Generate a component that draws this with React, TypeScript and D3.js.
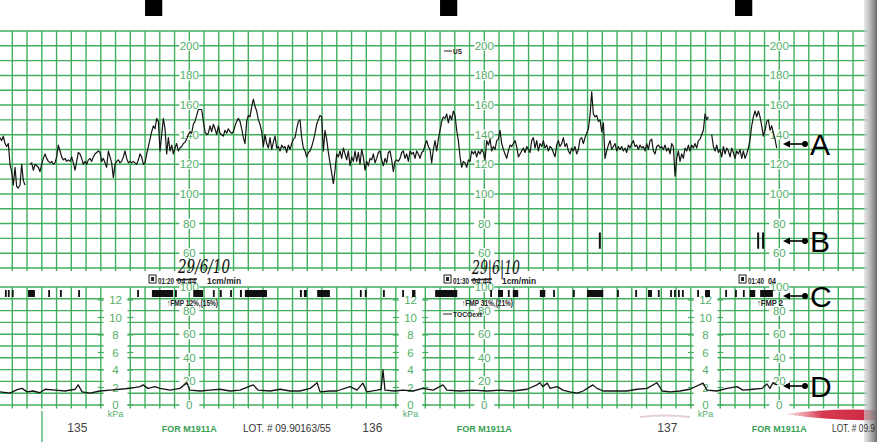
import React from 'react';
import * as d3 from 'd3';

// ---- data (time in seconds after 01:15:00) ----
const FHR_START = 5;
const FHR_STEP = 3.39;
// fetal heart rate, bpm; null = signal loss
const fhrBpm: (number | null)[] = [
  138, 136, 139, 134, 132, 134, 120, 115, 106, 118, 105, 104, 106, 120, 109, 106, null, null, 120, 121,
  116, 120, 119, 118, 115, 120, 124, 127, 124, 122, 121, 122, 120, 121, 125, 133, 129, 125, 123, 124,
  122, 123, 122, 125, 121, 116, 122, 128, 127, 124, 120, 122, 120, 123, 124, 122, 125, 127, 128, 129,
  128, 122, 124, 121, 118, 129, 125, 121, 111, 120, 122, 123, 121, 122, 125, 129, 124, 121, 122, 121,
  122, 121, 120, 123, 127, 125, 120, 121, 127, 132, 137, 142, 146, 144, 151, 149, 129, 140, 151, 144,
  127, 138, 129, 133, 127, 131, 134, 129, 131, 132, 134, 135, 137, 140, 142, 141, 147, 149, 153, 157,
  157, 157, 149, 142, 140, 141, 146, 142, 147, 144, 140, 146, 141, 140, 139, 143, 141, 144, 142, 141,
  142, 146, 149, 151, 149, 144, 138, 134, 149, 153, 152, 159, 164, 159, 156, 150, 147, 142, 132, 140,
  134, 131, 138, 130, 135, 139, 131, 132, 129, 133, 131, 132, 128, 133, 130, 134, 137, 138, 144, 149,
  150, 138, 131, 129, 125, 128, 129, 132, 136, 141, 147, 150, 153, 152, 129, 143, 137, 128, 121, 114,
  107, 116, 127, 125, 129, 124, 131, 127, 123, 129, 119, 125, 122, 129, 122, 128, 120, 130, 125, 116,
  122, 119, 124, 123, 127, 121, 124, 128, 129, 123, 119, 124, 121, 128, 129, 123, 115, 122, 123, 122,
  124, 128, 129, 124, 127, 122, 129, 127, 128, 124, 129, 127, 124, 128, 129, 133, 136, 132, 130, 121,
  130, 136, 129, 137, 143, 149, 152, 151, 154, 148, 153, 150, 156, 153, 143, 136, 125, 118, 122, 121,
  118, 123, 122, 129, 127, 129, 125, 129, 127, 130, 128, 123, 136, 133, 137, 129, 132, 130, 136, 137,
  143, 134, 130, 127, 124, 129, 133, 132, 134, 136, 132, 125, 127, 129, 131, 128, 132, 130, 128, 136,
  138, 131, 136, 129, 134, 132, 136, 131, 133, 129, 132, 131, 128, 125, 133, 136, 132, 134, 138, 132,
  134, 129, 127, 131, 129, 132, 127, 130, 137, 138, 134, 138, 141, 144, 153, 169, 154, 152, 153, 149,
  150, 142, 148, 124, 129, 133, 136, 130, 132, 134, 129, 132, 130, 132, 129, 131, 128, 133, 131, 134,
  136, 132, 133, 130, 133, 131, 132, 129, 134, 130, 136, 137, 129, 127, 132, 133, 131, 132, 130, 133,
  129, 131, 127, 134, 132, 112, 124, 129, 122, 127, 124, 131, 129, 133, 129, 133, 131, 134, 131, 136,
  137, 140, 143, 154, 150, 152, null, 140, 132, 129, 133, 128, 130, 125, 132, 127, 131, 129, 125, 131,
  128, 124, 129, 127, 130, 124, 129, 124, 127, 131, 137, 146, 152, 156, 152, 156, 152, 146, 139, 143,
  149, 150, 143, 146, 141, 137, 131,
];

// uterine activity (external toco), kPa
const tocoSec = [
  5, 25, 40, 50, 60, 72, 86, 97, 117, 137, 158, 164, 172, 188, 208, 229, 249, 269, 290, 296,
  306, 320, 330, 351, 371, 385, 391, 412, 432, 452, 473, 493, 520, 530, 554, 575, 595, 615, 636, 650,
  656, 676, 690, 717, 731, 743, 751, 772, 780, 784, 788, 808, 825, 845, 865, 886, 906, 914, 941, 967,
  996, 1022, 1048, 1077, 1097, 1103, 1109, 1118, 1124, 1138, 1150, 1164, 1179, 1191, 1205, 1211, 1219, 1232, 1252, 1280,
  1301, 1321, 1341, 1352, 1368, 1388, 1408, 1435, 1443, 1463, 1484, 1504, 1516, 1537, 1555, 1565, 1571, 1577, 1585,
];
const tocoKpa = [
  1.5, 1.35, 1.75, 1.9, 1.5, 1.6, 1.4, 1.8, 1.7, 1.6, 1.8, 2.3, 1.5, 1.35, 1.6, 1.7, 1.8, 1.9, 2.1, 2.3,
  1.9, 2.1, 1.9, 1.7, 1.9, 2.55, 1.7, 1.6, 1.7, 1.8, 1.6, 1.7, 2.3, 1.7, 1.6, 1.8, 1.6, 1.6, 1.9, 2.55,
  1.5, 1.6, 1.6, 2.1, 1.7, 2.5, 1.5, 1.7, 1.8, 4.0, 1.7, 1.6, 1.7, 1.6, 1.9, 1.7, 2.3, 1.7, 1.6, 1.7,
  1.6, 1.7, 1.6, 1.8, 2.3, 2.55, 2.1, 2.5, 1.9, 2.1, 1.7, 1.5, 1.35, 1.6, 2.1, 2.3, 1.9, 1.6, 1.6, 1.6,
  1.8, 1.9, 2.55, 1.6, 1.5, 1.6, 1.8, 2.5, 1.7, 1.6, 1.9, 2.1, 1.7, 1.8, 1.9, 2.4, 1.9, 2.55, 2.3,
];

// fetal movement marks (start, end in seconds)
const moveStart = [
  15, 21, 29, 62, 103, 127, 164, 284, 314, 361, 398, 438, 452, 473, 493, 503, 615, 623, 650, 737,
  747, 784, 823, 843, 890, 1002, 1018, 1038, 1048, 1103, 1130, 1170, 1199, 1260, 1297, 1323, 1343, 1368, 1376, 1384,
  1392, 1423, 1439, 1480, 1500, 1516, 1530, 1551,
];
const moveEnd = [
  17, 23, 31, 76, 106, 130, 167, 287, 357, 364, 418, 441, 456, 476, 497, 548, 619, 629, 676, 740,
  750, 787, 826, 850, 935, 1005, 1028, 1041, 1059, 1114, 1133, 1174, 1232, 1263, 1300, 1331, 1346, 1371, 1379, 1387,
  1395, 1426, 1449, 1483, 1503, 1519, 1541, 1577,
];
const markerTicks = [1225, 1547, 1557];

const fhrTicks = [60, 80, 100, 120, 140, 160, 180, 200];
const tocoTicks = [0, 20, 40, 60, 80, 100];
const kpaTicks = [0, 2, 4, 6, 8, 10, 12];
const labelCols = [390, 990, 1590];
const kpaCols = [240, 840, 1440];
const stampTimes = [300, 900, 1500];
const stampLabels = ['01:20', '01:30', '01:40'];
const pageNumbers = ['135', '136', '137'];
const fmpNotes = ['↑FMP  12%,(15%)', '↑FMP  31%,(21%)', '↑FMP  2'];

const GREEN = '#40ae5e';
const LABEL = '#52b06a';

export default function App() {
  const x = d3.scaleLinear().domain([30, 1830]).range([12.3, 897.3]);
  const yF = d3.scaleLinear().domain([50, 210]).range([268, 31]);
  const yT = d3.scaleLinear().domain([0, 100]).range([405, 287]);
  const yK = d3.scaleLinear().domain([0, 12]).range([405, 300]);
  const gridRight = 867;

  const vTimes = d3.range(0, 1801, 30).filter(t => x(t) >= 0 && x(t) <= gridRight);
  const fhrLines = d3.range(50, 211, 10);
  const tocoLines = d3.range(0, 101, 10);

  const fhrPath = d3.line<number | null>()
    .defined(d => d !== null)
    .x((_, i) => x(FHR_START + i * FHR_STEP))
    .y(d => yF(d as number))(fhrBpm) || '';
  const tocoPath = d3.line<number>()
    .x((_, i) => x(tocoSec[i]))
    .y(d => yK(d))(tocoKpa) || '';

  const sans = 'Liberation Sans, Arial, sans-serif';
  const hand = 'DejaVu Serif, serif';

  return (
    <div style={{ position: 'absolute', left: 0, top: 0 }}>
      <svg width={877} height={442} style={{ display: 'block', background: '#fff' }}>
        <defs>
          <linearGradient id="edge" x1="0" x2="1">
            <stop offset="0" stopColor="#d8d8d8" stopOpacity={0.6} />
            <stop offset="1" stopColor="#6a6a6a" />
          </linearGradient>
          <linearGradient id="smear" x1="0" x2="1">
            <stop offset="0" stopColor="#e07080" stopOpacity={0.2} />
            <stop offset="0.4" stopColor="#d83a50" />
            <stop offset="1" stopColor="#c82840" />
          </linearGradient>
        </defs>
        <rect width={877} height={442} fill="#fff" />

        {/* black timing squares at the top edge */}
        {stampTimes.map(t => (
          <rect key={t} x={x(t)} y={0} width={x(t + 35) - x(t)} height={16} fill="#000" />
        ))}

        {/* FHR grid */}
        <g stroke={GREEN} strokeWidth={1.4}>
          {fhrLines.map(v => (
            <line key={'h' + v} x1={0} x2={gridRight} y1={yF(v)} y2={yF(v)} />
          ))}
          {vTimes.map(t => (
            <line key={'v' + t} x1={x(t)} x2={x(t)} y1={yF(210)} y2={yF(50) + 3} />
          ))}
        </g>

        {/* TOCO grid */}
        <g stroke={GREEN} strokeWidth={1.4}>
          {tocoLines.map(v => (
            <line key={'th' + v} x1={0} x2={gridRight} y1={yT(v)} y2={yT(v)} />
          ))}
          {vTimes.filter(t => !kpaCols.includes(t)).map(t => (
            <line key={'tv' + t} x1={x(t)} x2={x(t)} y1={yT(100)} y2={yT(-3)} />
          ))}
        </g>

        {/* kPa columns */}
        {kpaCols.map(c => (
          <g key={'k' + c}>
            <rect x={x(c) - 12} y={yT(100) + 10} width={24} height={yT(-3) - yT(100) - 10} fill="#fff" />
            {kpaTicks.map(k => (
              <g key={k}>
                <line x1={x(c - 30) - 3} x2={x(c - 30) + 3} y1={yK(k)} y2={yK(k)} stroke={GREEN} strokeWidth={1.2} />
                <line x1={x(c + 30) - 3} x2={x(c + 30) + 3} y1={yK(k)} y2={yK(k)} stroke={GREEN} strokeWidth={1.2} />
                <text x={x(c)} y={yK(k) + 4} textAnchor="middle" fontFamily={sans} fontSize={11.5} fill={LABEL}>{k}</text>
              </g>
            ))}
            <text x={x(c)} y={yK(0) + 12} textAnchor="middle" fontFamily={sans} fontSize={9} fill={LABEL}>kPa</text>
          </g>
        ))}

        {/* scale labels */}
        {labelCols.map(c => (
          <g key={'l' + c}>
            {fhrTicks.map(v => (
              <g key={v}>
                <rect x={x(c) - 10} y={yF(v) - 5} width={20} height={10} fill="#fff" />
                <text x={x(c)} y={yF(v) + 4} textAnchor="middle" fontFamily={sans} fontSize={11.5} fill={LABEL}>{v}</text>
              </g>
            ))}
            {tocoTicks.map(v => (
              <g key={'t' + v}>
                <rect x={x(c) - 10} y={yT(v) - 5} width={20} height={10} fill="#fff" />
                <text x={x(c)} y={yT(v) + 4} textAnchor="middle" fontFamily={sans} fontSize={11.5} fill={LABEL}>{v}</text>
              </g>
            ))}
          </g>
        ))}

        {/* fetal movement marks */}
        {moveStart.map((s, i) => (
          <rect key={'m' + i} x={x(s)} y={290} width={Math.max(1.8, x(moveEnd[i]) - x(s))} height={7} fill="#111" />
        ))}
        {markerTicks.map((t, i) => (
          <line key={'mk' + i} x1={x(t)} x2={x(t)} y1={yF(74)} y2={yF(63)} stroke="#111" strokeWidth={2} />
        ))}

        {/* traces */}
        <path d={fhrPath} fill="none" stroke="#151515" strokeWidth={1.2} strokeLinejoin="round" />
        <path d={tocoPath} fill="none" stroke="#151515" strokeWidth={1.3} strokeLinejoin="round" />

        {/* channel label */}
        <line x1={444} x2={452} y1={51} y2={51} stroke="#222" strokeWidth={1} />
        <text x={453} y={54} fontFamily={sans} fontSize={7.5} fontWeight="bold" fill="#222" textLength={9} lengthAdjust="spacingAndGlyphs">US</text>

        {/* handwritten dates (written over the stamp line) */}
        <text x={178} y={273} fontFamily={hand} fontStyle="italic" fontSize={18} fill="#111" textLength={52} lengthAdjust="spacingAndGlyphs">29/6/10</text>
        <text x={472} y={274} fontFamily={hand} fontStyle="italic" fontSize={18} fill="#111" textLength={48} lengthAdjust="spacingAndGlyphs">29|6|10</text>

        {/* time stamps */}
        {stampTimes.map((t, i) => (
          <g key={'s' + i} fontFamily={sans} fontWeight="bold" fontSize={9.5} fill="#222">
            <rect x={x(t) + 4} y={275} width={7} height={8} fill="none" stroke="#222" strokeWidth={1} />
            <rect x={x(t) + 6} y={277} width={3} height={4} fill="#222" />
            <text x={x(t) + 13} y={283.5} textLength={16} lengthAdjust="spacingAndGlyphs">{stampLabels[i]}</text>
            {i < 2 ? (
              <>
                <text x={x(t) + 32} y={283.5} fill="#333" textLength={19} lengthAdjust="spacingAndGlyphs">04:44</text>
                <line x1={x(t) + 31} x2={x(t) + 52} y1={280} y2={279} stroke="#222" strokeWidth={1.5} />
                <text x={x(t) + 62} y={283.5} textLength={34} lengthAdjust="spacingAndGlyphs">1cm/min</text>
              </>
            ) : (
              <text x={x(t) + 33} y={283.5} textLength={8} lengthAdjust="spacingAndGlyphs">04</text>
            )}
          </g>
        ))}

        {/* FMP annotations */}
        <g fontFamily={sans} fontWeight="bold" fontSize={8.5} fill="#222">
          {stampTimes.map((t, i) => (
            <text key={'f' + i} x={x(t) + 22} y={306} textLength={i < 2 ? 51 : 26} lengthAdjust="spacingAndGlyphs">{fmpNotes[i]}</text>
          ))}
          <line x1={443} x2={452} y1={314} y2={314} stroke="#222" strokeWidth={1} />
          <text x={453} y={317} fontSize={8} textLength={29} lengthAdjust="spacingAndGlyphs">TOCOext</text>
        </g>

        {/* bottom strip */}
        <line x1={42} x2={42} y1={411} y2={442} stroke={GREEN} strokeWidth={1.3} />
        <path d="M640,417 Q665,414 690,417" fill="none" stroke="#b07090" strokeOpacity={0.35} strokeWidth={2} />
        <path d="M785,414 Q830,408 877,410 L877,420 Q830,421 785,414 Z" fill="url(#smear)" />
        {labelCols.map((c, i) => (
          <g key={'b' + c}>
            <text x={x(c) - 122} y={432} fontFamily={sans} fontSize={12} fill="#444">{pageNumbers[i]}</text>
            <text x={x(c)} y={432} textAnchor="middle" fontFamily={sans} fontWeight="bold" fontSize={9} fill="#3a9f55">FOR M1911A</text>
          </g>
        ))}
        <text x={243} y={432} fontFamily={sans} fontSize={10} fill="#333">LOT. # 09.90163/55</text>

        {/* paper edge shadow */}
        <rect x={864} y={0} width={13} height={442} fill="url(#edge)" />
        <text x={832} y={432} fontFamily={sans} fontSize={10} fill="#333" textLength={43} lengthAdjust="spacingAndGlyphs">LOT. # 09.9</text>

        {/* A-D callouts */}
        {[['A', 144], ['B', 241], ['C', 296], ['D', 386]].map(([lab, yy]) => (
          <g key={lab as string}>
            <line x1={788} x2={805} y1={yy as number} y2={yy as number} stroke="#000" strokeWidth={1.6} />
            <path d={`M783,${yy} l7,-3.5 l0,7 Z`} fill="#000" />
            <circle cx={805} cy={yy as number} r={3} fill="#000" />
            <text x={810} y={(yy as number) + 11} fontFamily={sans} fontSize={30} fill="#000">{lab}</text>
          </g>
        ))}
      </svg>
    </div>
  );
}
